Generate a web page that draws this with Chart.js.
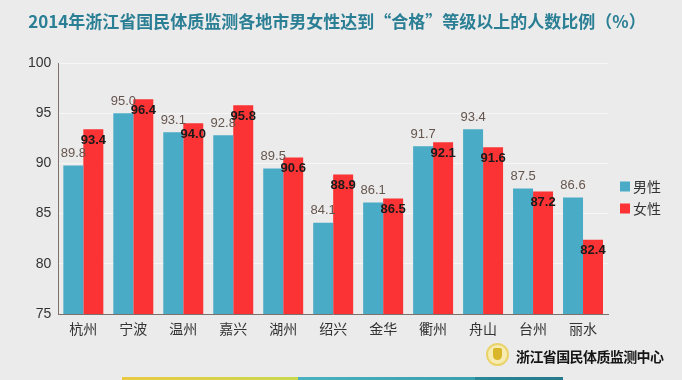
<!DOCTYPE html>
<html>
<head>
<meta charset="utf-8">
<script src="https://cdn.jsdelivr.net/npm/chart.js@4/dist/chart.umd.min.js"></script>
<style>
    html, body { margin: 0; padding: 0; }
    body { width: 682px; height: 380px; background: #ebebeb; position: relative; overflow: hidden; }
    #wrap { position: absolute; left: 0; top: 0; width: 682px; height: 380px; }
    .title { position: absolute; left: 0; top: 8px; width: 674px; text-align: center; line-height: 24px;
        font: bold 17px "Noto Sans CJK SC", sans-serif; color: #2b7f95; white-space: nowrap; }
    .org { position: absolute; left: 516px; top: 346px; font: bold 14px "Noto Sans CJK SC", sans-serif; color: #151515; letter-spacing: -0.6px; }
    .logo { position: absolute; left: 486px; top: 343px; width: 19px; height: 19px; border-radius: 50%; border: 2px solid #e9d36a; background: #f6ebb0; }
    .logo::after { content: ""; position: absolute; left: 5px; top: 3px; width: 9px; height: 12px; background: #d9b52a; border-radius: 2px 2px 5px 5px; }
    .stripe { position: absolute; left: 122px; top: 377px; width: 441px; height: 3px;
        background: linear-gradient(90deg, #e9c944 0%, #c9d84c 40%, #49b1c0 40%, #3a9fae 80%, #2a8899 80%, #25798b 100%); }
</style>
</head>
<body>
<div id="wrap"><canvas id="gradeChart"></canvas></div>
<div class="title">2014年浙江省国民体质监测各地市男女性达到“合格”等级以上的人数比例（%）</div>
<div class="logo"></div>
<div class="org">浙江省国民体质监测中心</div>
<div class="stripe"></div>
<script>
// 2014 浙江省各地市达到“合格”等级以上的人数比例
const cities = ['杭州', '宁波', '温州', '嘉兴', '湖州', '绍兴', '金华', '衢州', '舟山', '台州', '丽水'];
const maleRate = [89.8, 95.0, 93.1, 92.8, 89.5, 84.1, 86.1, 91.7, 93.4, 87.5, 86.6];
const femaleRate = [93.4, 96.4, 94.0, 95.8, 90.6, 88.9, 86.5, 92.1, 91.6, 87.2, 82.4];
const yTicks = [75, 80, 85, 90, 95, 100];

const cjk = '"Noto Sans CJK SC", "Liberation Sans", sans-serif';

// value labels: male above the bar, female just inside the top
const barLabels = {
    id: 'barLabels',
    afterDatasetsDraw(chart) {
        const ctx = chart.ctx;
        ctx.save();
        ctx.textAlign = 'center';
        ctx.textBaseline = 'middle';
        chart.data.datasets.forEach((ds, i) => {
            const meta = chart.getDatasetMeta(i);
            meta.data.forEach((bar, j) => {
                const txt = ds.data[j].toFixed(1);
                if (i === 0) {
                    ctx.font = '13px "Liberation Sans", Arial, sans-serif';
                    ctx.fillStyle = '#65554d';
                    ctx.fillText(txt, bar.x, bar.y - 12);
                } else {
                    ctx.font = 'bold 13px "Liberation Sans", Arial, sans-serif';
                    ctx.fillStyle = '#1a1a1a';
                    ctx.fillText(txt, bar.x, bar.y + 11);
                }
            });
        });
        ctx.restore();
    }
};

// legend to the right of the plot, centred a little below the middle
const sideLegend = {
    id: 'sideLegend',
    afterDraw(chart) {
        const ctx = chart.ctx;
        const area = chart.chartArea;
        const x = area.right + 12;
        const y0 = (area.top + area.bottom) / 2 - 2;
        ctx.save();
        ctx.textBaseline = 'middle';
        ctx.font = '14px ' + cjk;
        chart.data.datasets.forEach((ds, i) => {
            const y = y0 + i * 22;
            ctx.fillStyle = ds.backgroundColor;
            ctx.fillRect(x, y - 5, 10, 10);
            ctx.fillStyle = '#333';
            ctx.fillText(ds.label, x + 13, y);
        });
        ctx.restore();
    }
};

new Chart(document.getElementById('gradeChart'), {
    type: 'bar',
    data: {
        labels: cities,
        datasets: [
            {
                label: '男性',
                data: maleRate,
                backgroundColor: '#4aabc6'
            },
            {
                label: '女性',
                data: femaleRate,
                backgroundColor: '#fb3334'
            }
        ]
    },
    options: {
        responsive: true,
        maintainAspectRatio: false,
        animation: false,
        layout: { padding: { left: 21, right: 74, top: 63, bottom: 44 } },
        datasets: { bar: { categoryPercentage: 0.8, barPercentage: 1.0 } },
        plugins: {
            legend: { display: false },
            tooltip: { enabled: false }
        },
        scales: {
            x: {
                grid: { display: false },
                border: { display: true, color: '#7d716b', width: 1 },
                ticks: { color: '#333', font: { family: cjk, size: 14, lineHeight: 1 }, padding: 0 }
            },
            y: {
                min: 75,
                max: 100,
                afterBuildTicks: (axis) => { axis.ticks = yTicks.map(v => ({ value: v })); },
                grid: { color: '#f6f6f6', drawTicks: false },
                border: { display: true, color: '#7d716b', width: 1 },
                ticks: { color: '#333', font: { family: '"Liberation Sans", Arial, sans-serif', size: 14 }, padding: 7 }
            }
        }
    },
    plugins: [barLabels, sideLegend]
});
</script>
</body>
</html>
